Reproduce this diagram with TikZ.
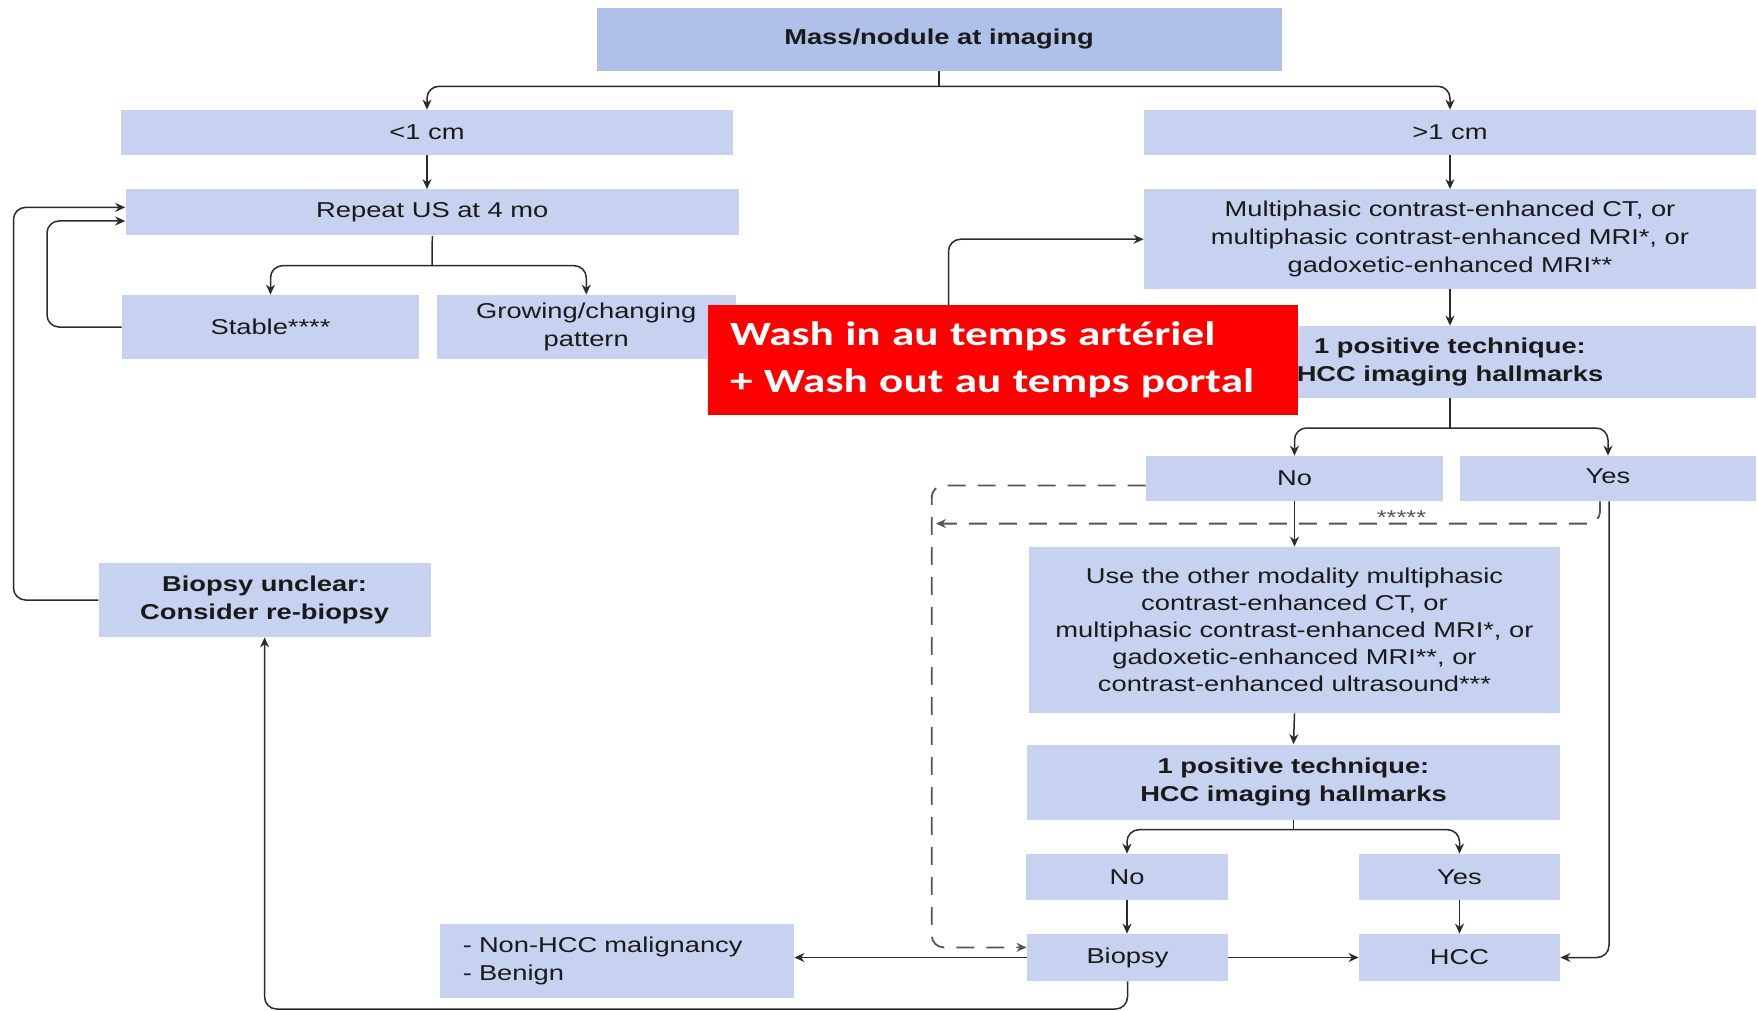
\documentclass[tikz,border=0pt]{standalone}
\usepackage{fontspec}
\setmainfont{Liberation Sans}[FakeStretch=1.27]
\newfontfamily\redfont{Carlito}[FakeStretch=1.33]
\usetikzlibrary{arrows.meta}
\definecolor{boxblue}{HTML}{C6D2EF}
\definecolor{topblue}{HTML}{AFC1E8}
\definecolor{linegray}{HTML}{2B2B2B}
\definecolor{dashgray}{HTML}{555555}
\definecolor{txt}{HTML}{1A1A1A}
\tikzset{
  box/.style={rectangle, fill=boxblue, draw=none, inner sep=0pt, align=center, text=txt,
    font=\fontsize{10.75}{14}\selectfont},
  line/.style={draw=linegray, line width=0.75pt, rounded corners=6pt},
  arr/.style={line, -{Stealth[length=5pt,width=4.5pt]}},
  dsh/.style={draw=dashgray, line width=0.9pt, dash pattern=on 9pt off 6pt, rounded corners=6pt,
    -{Stealth[length=5pt,width=4.5pt]}},
}
\newcommand\mybox[7]{\node[box,#6,minimum width={(#4-#2)*0.5pt},minimum height={(#5-#3)*0.5pt}] (#1) at ({(#2+#4)/2},{(#3+#5)/2}) {#7};}
\begin{document}
\begin{tikzpicture}[x=0.5pt,y=-0.5pt]
\useasboundingbox (0,0) rectangle (1758,1011);
\mybox{top}{596.5}{8}{1281.5}{70.6}{fill=topblue}{\bfseries Mass/nodule at imaging}
\mybox{lt1}{121}{110}{733}{155}{}{<1 cm}
\mybox{gt1}{1144}{110}{1756}{155}{}{>1 cm}
\mybox{rep}{125.6}{189.5}{739}{235.5}{}{Repeat US at 4 mo}
\mybox{stab}{122}{295}{419}{359}{}{Stable****}
\mybox{grow}{437}{295}{735.5}{359}{}{Growing/changing\\pattern}
\mybox{multi}{1144}{189.5}{1756}{289}{}{Multiphasic contrast-enhanced CT, or\\multiphasic contrast-enhanced MRI*, or\\gadoxetic-enhanced MRI**}
\mybox{pos1}{1144}{326}{1756}{398}{}{\bfseries 1 positive technique:\\\bfseries HCC imaging hallmarks}
\mybox{no1}{1146}{456}{1443}{501}{}{No}
\mybox{yes1}{1460}{456}{1756}{501}{}{\raisebox{2pt}{Yes}}
\mybox{other}{1029}{547}{1560}{713}{font=\fontsize{10.75}{13.5}\selectfont}{Use the other modality multiphasic\\contrast-enhanced CT, or\\multiphasic contrast-enhanced MRI*, or\\gadoxetic-enhanced MRI**, or\\contrast-enhanced ultrasound***}
\mybox{pos2}{1027}{744.5}{1560}{820}{}{\bfseries 1 positive technique:\\\bfseries HCC imaging hallmarks}
\mybox{no2}{1026}{854}{1228}{900}{}{No}
\mybox{yes2}{1359}{854}{1560}{900}{}{Yes}
\mybox{biop}{1027}{934}{1228}{981}{}{Biopsy}
\mybox{hcc}{1359}{934}{1560}{981}{}{HCC}
\mybox{nonhcc}{439.5}{924}{794}{998}{align=left, text width=154pt, inner xsep=11.25pt}{- Non-HCC malignancy\\- Benign}
\mybox{unclear}{98.7}{563}{430.5}{637}{}{\bfseries Biopsy unclear:\\\bfseries Consider re-biopsy}

% connectors
\draw[line] (top.south) -- (939,86.3) coordinate (tj);
\draw[arr] (tj) -| (lt1.north);
\draw[arr] (tj) -| (gt1.north);
\draw[arr] (lt1.south) -- (lt1.south |- rep.north);
\draw[line] (rep.south) -- (432,265.7) coordinate (rj);
\draw[arr] (rj) -| (stab.north);
\draw[arr] (rj) -| (grow.north);
\draw[arr] (stab.west) -- (47,327) -- (47,221) -- (rep.west |- 0,221);
\draw[arr] (unclear.west) -- (13.5,600) -- (13.5,207.4) -- (rep.west |- 0,207.4);
\draw[arr] (grow.east) -- (948.5,327) -- (948.5,239.25) -- (multi.west);
\draw[arr] (gt1.south) -- (multi.north);
\draw[arr] (multi.south) -- (pos1.north);
\draw[line] (pos1.south) -- (1450,428) coordinate (pj);
\draw[arr] (pj) -| (no1.north);
\draw[arr] (pj) -| (yes1.north);
\draw[arr] (no1.south) -- (other.north);
\draw[arr] (other.south) -- (pos2.north);
\draw[line] (pos2.south) -- (1293.5,829.7) coordinate (qj);
\draw[arr] (qj) -| (no2.north);
\draw[arr] (qj) -| (yes2.north);
\draw[arr] (no2.south) -- (no2.south |- biop.north);
\draw[arr] (yes2.south) -- (hcc.north);
\draw[arr] (biop.east) -- (hcc.west);
\draw[arr] (yes1.south -| 1609,0) |- (hcc.east);
\draw[arr] (biop.west) -- (nonhcc.east |- biop.west);
\draw[arr] (biop.south) -- (1127.5,1009) -| (unclear.south);
\draw[dsh] (no1.west |- 0,485.5) -- (931.7,485.5) -- (931.7,947.4) -- (biop.west |- 0,947.4);
\coordinate (dend) at (936,523.6);
\draw[dsh] (yes1.south -| 1600,0) -- (1600,523.6) -- (dend);
\node[font=\fontsize{10}{10}\selectfont, text=dashgray] (stars) at (1401.5,518) {*****};

% red overlay
\node[rectangle, fill=red, text=white, inner sep=0pt, inner xsep=11.25pt, align=left,
  text width=272.75pt, minimum height=55pt,
  font=\redfont\bfseries\fontsize{17}{23.5}\selectfont] (red) at (1002.75,360)
  {Wash in au temps artériel\\+ Wash out au temps portal};
\end{tikzpicture}
\end{document}
